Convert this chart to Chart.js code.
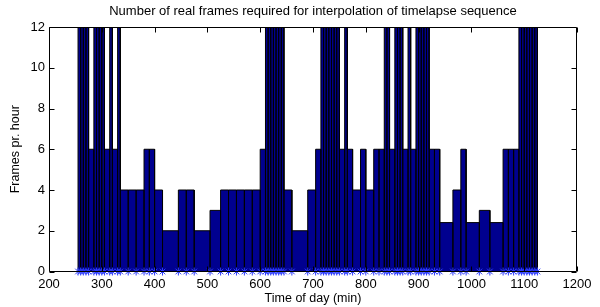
<!DOCTYPE html>
<html>
<head>
<meta charset="utf-8">
<script src="https://cdn.jsdelivr.net/npm/chart.js@4/dist/chart.umd.min.js"></script>
<style>
  html, body { margin: 0; padding: 0; background: #ffffff; }
  #wrap { width: 600px; height: 307px; position: relative; }
</style>
</head>
<body>
<div id="wrap"><canvas id="c" width="600" height="307"></canvas></div>
<script>
// Frame times (min) — the asterisks; each bar spans two consecutive frames
const frameTimes = [
  255, 260, 265, 270, 275, 285, 290, 295, 300, 305, 315, 320, 330, 335,
  350, 365, 380, 390, 400, 415, 445, 460, 475, 505, 525, 540, 555, 570, 585, 600, 610,
  615, 620, 625, 630, 635, 640, 645, 660, 690, 705, 715,
  720, 725, 730, 735, 740, 745, 750,
  760, 765, 775, 790, 800, 815, 825, 835, 840, 845, 855, 860, 865, 870, 880, 885, 895,
  900, 905, 910, 915, 920, 930, 940, 965, 980, 990, 1015, 1035, 1060, 1070, 1080, 1090,
  1095, 1100, 1105, 1110, 1115, 1120, 1125
];
// Frames per hour for each interval between consecutive frame times
const framesPerHour = [
  12, 12, 12, 12, 6, 12, 12, 12, 12, 6, 12, 6, 12,
  4, 4, 4, 6, 6, 4, 2, 4, 4, 2, 3, 4, 4, 4, 4, 4, 6,
  12, 12, 12, 12, 12, 12, 12,
  4, 2, 4, 6,
  12, 12, 12, 12, 12, 12, 12,
  6, 12, 6, 4, 6, 4, 6, 6, 12, 12, 6, 12, 12, 12, 6, 12, 6,
  12, 12, 12, 12, 12,
  6, 6, 2.4, 4, 6, 2.4, 3, 2.4, 6, 6, 6,
  12, 12, 12, 12, 12, 12, 12
];
const xTicks = [200, 300, 400, 500, 600, 700, 800, 900, 1000, 1100, 1200];
const yTicks = [0, 2, 4, 6, 8, 10, 12];

// Bar outlines built from the data (rectangles between consecutive frames)
const barOutline = [];
for (let i = 0; i < framesPerHour.length; i++) {
  const a = frameTimes[i], b = frameTimes[i + 1], h = framesPerHour[i];
  barOutline.push({x: a, y: 0}, {x: a, y: h}, {x: b, y: h}, {x: b, y: 0});
}
const markers = frameTimes.map(t => ({x: t, y: 0}));

const FONT = "'Liberation Sans', Arial, Helvetica, sans-serif";

const boxPlugin = {
  id: 'box',
  afterDraw(chart) {
    const ctx = chart.ctx, a = chart.chartArea;
    const xs = chart.scales.x, ys = chart.scales.y;
    const L = Math.round(a.left) + 0.5, R = Math.round(a.right) - 0.5;
    const T = Math.round(a.top) + 0.5, B = Math.round(a.bottom) - 0.5;
    ctx.save();
    ctx.strokeStyle = '#000';
    ctx.lineWidth = 1;
    ctx.beginPath();
    ctx.rect(L, T, R - L, B - T);
    const tl = 5;
    xTicks.forEach(v => {
      const px = Math.round(xs.getPixelForValue(v)) + 0.5;
      ctx.moveTo(px, B); ctx.lineTo(px, B - tl);
      ctx.moveTo(px, T); ctx.lineTo(px, T + tl);
    });
    yTicks.forEach(v => {
      const py = Math.round(ys.getPixelForValue(v)) + 0.5;
      ctx.moveTo(L, py); ctx.lineTo(L + tl, py);
      ctx.moveTo(R, py); ctx.lineTo(R - tl, py);
    });
    ctx.stroke();
    ctx.restore();
  }
};

new Chart(document.getElementById('c'), {
  type: 'line',
  data: {
    datasets: [
      {
        data: markers,
        showLine: false,
        pointStyle: 'star',
        pointRadius: 4,
        pointBorderWidth: 1,
        pointBorderColor: '#2a3aff',
        pointBackgroundColor: '#2a3aff',
        clip: false,
        order: 0
      },
      {
        data: barOutline,
        borderColor: '#000000',
        borderWidth: 1,
        backgroundColor: '#00008f',
        fill: 'origin',
        pointRadius: 0,
        tension: 0,
        clip: 0,
        order: 1
      }
    ]
  },
  options: {
    responsive: false,
    animation: false,
    events: [],
    layout: { padding: { left: 0, right: 23, top: 0, bottom: 0 } },
    plugins: {
      legend: { display: false },
      tooltip: { enabled: false },
      title: { display: false }
    },
    scales: {
      x: {
        type: 'linear',
        min: 200, max: 1200,
        afterBuildTicks: s => { s.ticks = xTicks.map(v => ({value: v})); },
        afterFit: s => { s.height = 35.5; },
        grid: { display: false, drawTicks: false },
        border: { display: false },
        ticks: { color: '#000', padding: 5, font: { family: FONT, size: 13 }, maxRotation: 0,
                 callback: v => String(v) },
        title: {
          display: true, text: 'Time of day (min)', color: '#000',
          font: { family: FONT, size: 12.5 }, padding: { top: 0, bottom: 1 }
        }
      },
      xTop: {
        type: 'linear',
        position: 'top',
        min: 200, max: 1200,
        afterFit: s => { s.height = 27; },
        grid: { display: false, drawTicks: false },
        border: { display: false },
        ticks: { display: false },
        title: {
          display: true,
          text: 'Number of real frames required for interpolation of timelapse sequence',
          color: '#000',
          font: { family: FONT, size: 13 }, padding: { top: 4, bottom: 0 }
        }
      },
      y: {
        min: 0, max: 12,
        afterBuildTicks: s => { s.ticks = yTicks.map(v => ({value: v})); },
        afterFit: s => { s.width = 49; },
        grid: { display: false, drawTicks: false },
        border: { display: false },
        ticks: { color: '#000', padding: 4, font: { family: FONT, size: 13 },
                 callback: v => String(v) },
        title: {
          display: true, text: 'Frames pr. hour', color: '#000',
          font: { family: FONT, size: 12.5 }, padding: { top: 8, bottom: 0 }
        }
      }
    }
  },
  plugins: [boxPlugin]
});
</script>
</body>
</html>
